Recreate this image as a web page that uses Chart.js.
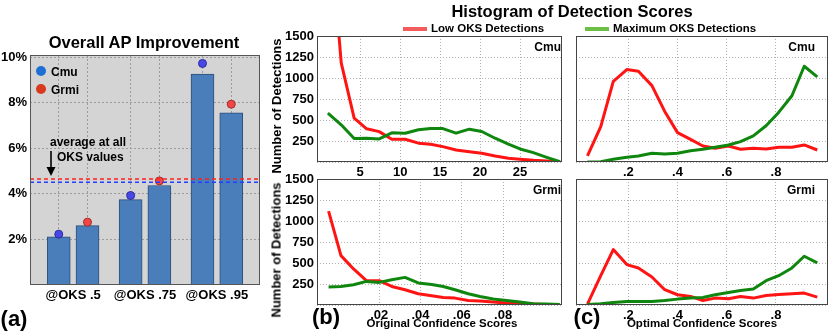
<!DOCTYPE html>
<html>
<head>
<meta charset="utf-8">
<script src="https://cdn.jsdelivr.net/npm/chart.js@4.4.1/dist/chart.umd.min.js"></script>
<style>
html, body { margin: 0; padding: 0; background: #fff; }
#page { position: relative; width: 830px; height: 332px; overflow: hidden;
  font-family: "Liberation Sans", Arial, Helvetica, sans-serif; font-weight: bold; color: #000; }
#page canvas { position: absolute; left: 0; top: 0; }
.lbl { position: absolute; white-space: nowrap; line-height: 1; transform: translate(-50%, -50%); }
.lbl.lft { transform: translate(0, -50%); }
.lbl.rgt { transform: translate(-100%, -50%); }
.dot { position: absolute; width: 10px; height: 10px; border-radius: 50%; transform: translate(-50%, -50%); }
.swatch { position: absolute; width: 24px; height: 4px; }
.ylab { position: absolute; white-space: nowrap; line-height: 1; font-size: 13px; transform: translate(-50%, -50%) rotate(-90deg); }
</style>
</head>
<body>
<div id="page">
  <canvas id="ap" width="830" height="332"></canvas>
  <canvas id="cmuOrig" width="830" height="332"></canvas>
  <canvas id="cmuOpt" width="830" height="332"></canvas>
  <canvas id="grmiOrig" width="830" height="332"></canvas>
  <canvas id="grmiOpt" width="830" height="332"></canvas>

  <!-- (a) panel texts -->
  <div class="lbl" style="left:144px;top:42px;font-size:16.5px">Overall AP Improvement</div>
  <div class="dot" style="left:41px;top:71px;background:#1d6fd6"></div>
  <div class="lbl lft" style="left:51px;top:72px;font-size:12px">Cmu</div>
  <div class="dot" style="left:41px;top:89px;background:#d9381e"></div>
  <div class="lbl lft" style="left:51px;top:90px;font-size:12px">Grmi</div>
  <div class="lbl lft" style="left:50px;top:142px;font-size:12px">average at all</div>
  <div class="lbl lft" style="left:57px;top:157px;font-size:12px">OKS values</div>
  <svg style="position:absolute;left:44px;top:148px" width="14" height="30">
    <line x1="7" y1="3" x2="7" y2="22" stroke="#000" stroke-width="1.6"/>
    <polygon points="2.5,19 11.5,19 7,28" fill="#000"/>
  </svg>
  <div class="lbl" style="left:14px;top:319px;font-size:22px">(a)</div>

  <!-- (b)/(c) panel texts -->
  <div class="lbl" style="left:572px;top:11px;font-size:16.5px">Histogram of Detection Scores</div>
  <div class="swatch" style="left:403px;top:27px;background:#f25c5c"></div>
  <div class="lbl lft" style="left:431px;top:29px;font-size:11.5px">Low OKS Detections</div>
  <div class="swatch" style="left:585px;top:27px;background:#6cbf45"></div>
  <div class="lbl lft" style="left:613px;top:29px;font-size:11.5px">Maximum OKS Detections</div>
  <div class="ylab" style="left:276px;top:106px">Number of Detections</div>
  <div class="ylab" style="left:276px;top:250px">Number of Detections</div>
  <div class="lbl rgt" style="left:561px;top:47px;font-size:12px">Cmu</div>
  <div class="lbl rgt" style="left:815px;top:47px;font-size:12px">Cmu</div>
  <div class="lbl rgt" style="left:561px;top:190px;font-size:12px">Grmi</div>
  <div class="lbl rgt" style="left:815px;top:190px;font-size:12px">Grmi</div>
  <div class="lbl" style="left:442px;top:324px;font-size:11.5px">Original Confidence Scores</div>
  <div class="lbl" style="left:702px;top:324px;font-size:11.5px">Optimal Confidence Scores</div>
  <div class="lbl" style="left:326px;top:317px;font-size:22px">(b)</div>
  <div class="lbl" style="left:587px;top:317px;font-size:22px">(c)</div>
</div>

<script>
// ---- (a) overall AP improvement, in percent
const okCategories = ["@OKS .5", "@OKS .75", "@OKS .95"];
const cmuGain = [2.11, 3.75, 9.26];
const grmiGain = [2.61, 4.37, 7.56];
const cmuDot = [2.23, 3.93, 9.73];
const grmiDot = [2.76, 4.57, 7.94];
const cmuAvg = 4.51;
const grmiAvg = 4.66;
const pctTicks = [2, 4, 6, 8, 10];

// ---- (b) histograms over original confidence scores
const cmuOrigBins = [0.96, 2.63, 4.25, 5.81, 7.38, 8.96, 10.63, 12.29, 13.81, 15.34,
  17.0, 18.66, 20.21, 21.88, 23.54, 25.0, 26.66, 28.34, 30.0];
const cmuOrigLow = [3100, 1180, 523, 395, 362, 271, 271, 224, 212, 183, 143, 123, 104, 72, 44, 32, 20, 12, 0];
const cmuOrigMax = [582, 443, 279, 283, 275, 347, 343, 383, 398, 398, 343, 391, 363, 283, 212, 155, 111, 56, 4];

const grmiOrigBins = [-0.0045, 0.0015, 0.0076, 0.0138, 0.02, 0.0261, 0.0325, 0.0389, 0.0454, 0.051,
  0.0567, 0.0631, 0.0688, 0.0752, 0.0817, 0.0881, 0.0945, 0.101, 0.1074];
const grmiOrigLow = [1118, 588, 429, 289, 289, 221, 182, 134, 110, 90, 82, 54, 47, 35, 23, 14, 11, 6, 2];
const grmiOrigMax = [214, 221, 242, 281, 269, 301, 329, 262, 245, 221, 182, 134, 102, 71, 54, 35, 14, 11, 6];

// ---- (c) histograms over optimal confidence scores
const optBins = [0.034, 0.088, 0.139, 0.194, 0.241, 0.296, 0.348, 0.4, 0.453, 0.503,
  0.553, 0.607, 0.656, 0.708, 0.76, 0.811, 0.865, 0.915, 0.968];
const cmuOptLow = [72, 422, 960, 1100, 1080, 909, 602, 350, 270, 191, 164, 191, 152, 164, 155, 176, 176, 203, 143];
const cmuOptMax = [0, 4, 32, 56, 72, 104, 96, 104, 135, 152, 176, 203, 243, 311, 431, 590, 789, 1140, 1013];
const grmiOptLow = [11, 349, 660, 481, 441, 334, 182, 122, 102, 54, 82, 74, 102, 82, 114, 126, 134, 142, 94];
const grmiOptMax = [5, 14, 30, 42, 42, 42, 54, 70, 82, 90, 122, 150, 173, 190, 289, 349, 441, 580, 501];

const countTicks = [0, 250, 500, 750, 1000, 1250, 1500];
const cmuOrigTicks = [5, 10, 15, 20, 25];
const grmiOrigTicks = [0.02, 0.04, 0.06, 0.08];
const optTicks = [0.2, 0.4, 0.6, 0.8];

const tickFont = { family: "Liberation Sans", size: 13, weight: "bold" };
const W = 830, H = 332;
const dropZero = v => String(v).replace(/^0\./, ".");

// paints the plot background and the box round it
const frame = {
  id: "frame",
  beforeDraw(chart, args, opts) {
    if (!opts.fill) return;
    const { ctx, chartArea: a } = chart;
    ctx.save();
    ctx.fillStyle = opts.fill;
    ctx.fillRect(a.left, a.top, a.width, a.height);
    ctx.restore();
  },
  afterDatasetsDraw(chart, args, opts) {
    const { ctx, chartArea: a } = chart;
    ctx.save();
    ctx.strokeStyle = opts.stroke || "#555";
    ctx.lineWidth = 1;
    ctx.strokeRect(Math.round(a.left) + 0.5, Math.round(a.top) + 0.5,
      Math.round(a.width) - 1, Math.round(a.height) - 1);
    ctx.restore();
  }
};

// ---- (a)
const groupX = okCategories.map((c, i) => 1.5 + 2.5 * i);
const cmuX = groupX.map(x => x - 0.5);
const grmiX = groupX.map(x => x + 0.5);
const apTicks = [...cmuX, ...groupX, ...grmiX].sort((a, b) => a - b);

const barStyle = {
  backgroundColor: "#4a7ebb", borderColor: "#2f4f78", borderWidth: 1,
  barThickness: 23, grouped: false, order: 2
};

new Chart(document.getElementById("ap"), {
  type: "bar",
  data: {
    datasets: [
      { label: "Cmu", data: cmuX.map((x, i) => ({ x, y: cmuGain[i] })), ...barStyle },
      { label: "Grmi", data: grmiX.map((x, i) => ({ x, y: grmiGain[i] })), ...barStyle },
      { type: "scatter", label: "Cmu", data: cmuX.map((x, i) => ({ x, y: cmuDot[i] })),
        pointRadius: 4, backgroundColor: "#4848e6", borderColor: "#2c2ca0", borderWidth: 1, order: 1 },
      { type: "scatter", label: "Grmi", data: grmiX.map((x, i) => ({ x, y: grmiDot[i] })),
        pointRadius: 4, backgroundColor: "#f04646", borderColor: "#a82a2a", borderWidth: 1, order: 1 },
      { type: "line", label: "Cmu avg", data: [{ x: 0, y: cmuAvg }, { x: 8, y: cmuAvg }],
        borderColor: "#2040ff", borderDash: [4, 3], borderWidth: 1.5, pointRadius: 0, order: 0 },
      { type: "line", label: "Grmi avg", data: [{ x: 0, y: grmiAvg }, { x: 8, y: grmiAvg }],
        borderColor: "#ff2020", borderDash: [4, 3], borderWidth: 1.5, pointRadius: 0, order: 0 }
    ]
  },
  options: {
    responsive: false,
    animation: false,
    layout: { padding: { left: 0, right: W - 260, top: 55, bottom: H - 285 - 20 } },
    plugins: { legend: { display: false }, tooltip: { enabled: false }, frame: { fill: "#d4d4d4", stroke: "#555" } },
    scales: {
      x: {
        type: "linear", min: 0, max: 8, offset: false, bounds: "data",
        afterBuildTicks: s => { s.ticks = apTicks.map(v => ({ value: v })); },
        afterFit: s => { s.height = 20; },
        ticks: {
          font: tickFont, color: "#000", padding: 3, maxRotation: 0, autoSkip: false,
          callback: v => { const i = groupX.indexOf(v); return i >= 0 ? okCategories[i] : ""; }
        },
        grid: {
          offset: false, drawTicks: false,
          color: c => (c.tick && groupX.includes(c.tick.value)) ? "rgba(0,0,0,0)" : "#9c9c9c"
        },
        border: { display: false, dash: [2, 2] }
      },
      y: {
        min: 0, max: 10.1, bounds: "data",
        afterBuildTicks: s => { s.ticks = pctTicks.map(v => ({ value: v })); },
        afterFit: s => { s.width = 30; },
        ticks: { font: tickFont, color: "#000", padding: 3, callback: v => v + "%" },
        grid: { color: "#9c9c9c", drawTicks: false },
        border: { display: false, dash: [2, 2] }
      }
    }
  },
  plugins: [frame]
});

// ---- (b)/(c)
function histChart(id, bins, low, high, box, xMin, xMax, xTicks, showY) {
  const yW = showY ? 37 : 0;
  const xH = 20;
  return new Chart(document.getElementById(id), {
    type: "line",
    data: {
      datasets: [
        { label: "Low OKS Detections", data: bins.map((x, i) => ({ x, y: low[i] })),
          borderColor: "#ff1414", order: 1 },
        { label: "Maximum OKS Detections", data: bins.map((x, i) => ({ x, y: high[i] })),
          borderColor: "#0f870f", order: 0 }
      ]
    },
    options: {
      responsive: false,
      animation: false,
      layout: { padding: { left: box[0] - yW, right: W - box[1], top: box[2], bottom: H - box[3] - xH } },
      elements: { point: { radius: 0 }, line: { borderWidth: 3, tension: 0, borderJoinStyle: "round" } },
      plugins: { legend: { display: false }, tooltip: { enabled: false }, frame: { stroke: "#444" } },
      scales: {
        x: {
          type: "linear", min: xMin, max: xMax, bounds: "data",
          afterBuildTicks: s => { s.ticks = xTicks.map(v => ({ value: v })); },
          afterFit: s => { s.height = xH; },
          ticks: { font: tickFont, color: "#000", padding: 3, maxRotation: 0, autoSkip: false, callback: dropZero },
          grid: { color: "#b0b0b0", drawTicks: false },
          border: { display: false, dash: [1, 2] }
        },
        y: {
          min: 0, max: 1500, bounds: "data",
          afterBuildTicks: s => { s.ticks = countTicks.map(v => ({ value: v })); },
          afterFit: s => { s.width = yW; },
          ticks: { display: showY, font: tickFont, color: "#000", padding: 3, callback: v => v === 0 ? "" : v },
          grid: { color: "#b0b0b0", drawTicks: false },
          border: { display: false, dash: [1, 2] }
        }
      }
    },
    plugins: [frame]
  });
}

histChart("cmuOrig", cmuOrigBins, cmuOrigLow, cmuOrigMax, [317, 562, 36, 162], -0.4, 30.25, cmuOrigTicks, true);
histChart("cmuOpt", optBins, cmuOptLow, cmuOptMax, [576, 828, 36, 162], -0.0126, 1.0116, optTicks, false);
histChart("grmiOrig", grmiOrigBins, grmiOrigLow, grmiOrigMax, [317, 562, 179, 305], -0.0101, 0.1085, grmiOrigTicks, true);
histChart("grmiOpt", optBins, grmiOptLow, grmiOptMax, [576, 828, 179, 305], -0.0126, 1.0116, optTicks, false);
</script>
</body>
</html>
